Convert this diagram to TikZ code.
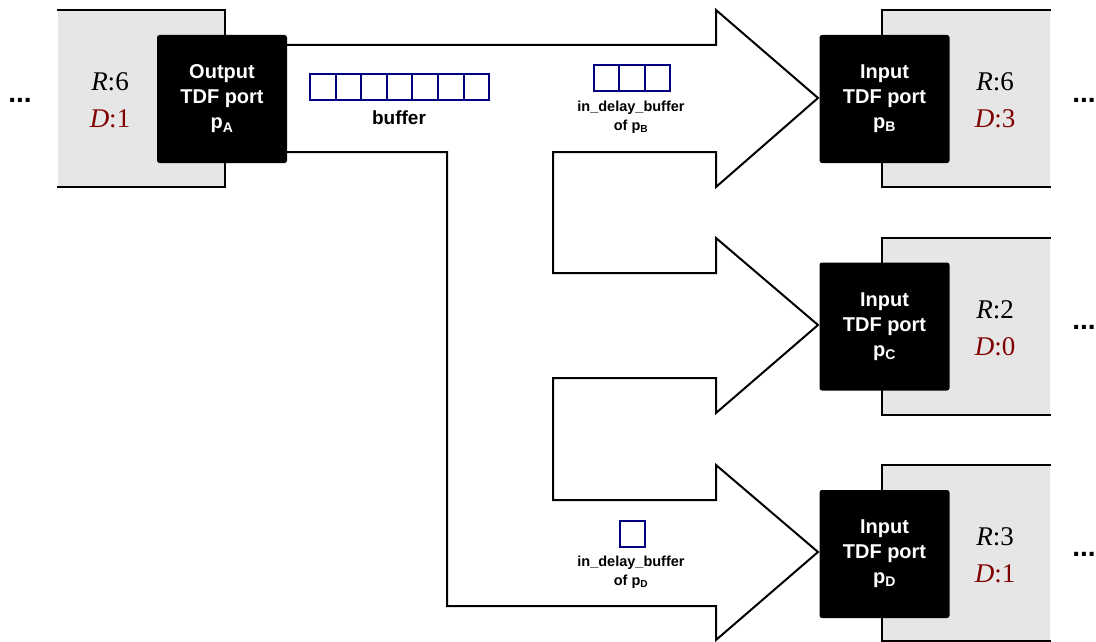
\documentclass[tikz,border=0pt]{standalone}
\usepackage{fontspec}
\setmainfont{Liberation Serif}
\setsansfont{Liberation Sans}
\definecolor{modgray}{RGB}{230,230,230}
\definecolor{dred}{RGB}{128,0,0}
\definecolor{bufblue}{RGB}{0,0,128}
\tikzset{
  portbox/.style={fill=black, rounded corners=2.5pt, minimum width=130pt, minimum height=128pt,
    inner sep=0pt, text=white, align=center, font=\sffamily\bfseries\fontsize{20}{25}\selectfont},
  modline/.style={line width=2.6pt, line cap=rect},
  pipe/.style={line width=2pt, line join=miter},
  cell/.style={draw=bufblue, line width=2pt, minimum width=25.6pt, minimum height=26pt, inner sep=0pt},
  rlbl/.style={font=\fontsize{27}{30}\selectfont, inner sep=0pt},
  dlbl/.style={font=\fontsize{27}{30}\selectfont, text=dred, inner sep=0pt},
  dots/.style={font=\sffamily\bfseries\fontsize{28}{30}\selectfont, inner sep=0pt},
  buflbl/.style={font=\sffamily\bfseries\fontsize{19}{22}\selectfont, inner sep=0pt},
  dlylbl/.style={font=\sffamily\bfseries\fontsize{14.5}{19}\selectfont, align=center, inner sep=0pt}
}
\begin{document}
\begin{tikzpicture}[x=1pt,y=-1pt]
\useasboundingbox (0,0) rectangle (1096,642);

% modules
\fill[modgray] (58,10) rectangle (225,187);
\draw[modline] (58,10) -- (225,10) -- (225,187) -- (58,187);
\fill[modgray] (882,10) rectangle (1050,187);
\draw[modline] (1050,10) -- (882,10) -- (882,187) -- (1050,187);
\fill[modgray] (882,238) rectangle (1050,415);
\draw[modline] (1050,238) -- (882,238) -- (882,415) -- (1050,415);
\fill[modgray] (882,465) rectangle (1050,642);
\draw[modline] (1050,465) -- (882,465) -- (882,641) -- (1050,641);

% pipe
\draw[pipe] (287,45) -- (716,45) -- (716,10) -- (818,98) -- (716,187) -- (716,152)
  -- (553,152) -- (553,273) -- (716,273) -- (716,238) -- (818,325) -- (716,413) -- (716,378)
  -- (553,378) -- (553,500) -- (716,500) -- (716,465) -- (818,552) -- (716,640) -- (716,606)
  -- (447,606) -- (447,152) -- (287,152);

% ports
\node[portbox] (pA) at (222,99) {Output\\TDF port\\p\textsubscript{A}};
\node[portbox] (pB) at (884.5,99) {Input\\TDF port\\p\textsubscript{B}};
\node[portbox] (pC) at (884.5,326.5) {Input\\TDF port\\p\textsubscript{C}};
\node[portbox] (pD) at (884.5,554) {Input\\TDF port\\p\textsubscript{D}};

% rates and delays
\node[rlbl] (rA) at (110,82) {\textit{R}:6};
\node[dlbl] (dA) at (110,119) {\textit{D}:1};
\node[rlbl] (rB) at (995,82) {\textit{R}:6};
\node[dlbl] (dB) at (995,119) {\textit{D}:3};
\node[rlbl] (rC) at (995,310) {\textit{R}:2};
\node[dlbl] (dC) at (995,347) {\textit{D}:0};
\node[rlbl] (rD) at (995,537) {\textit{R}:3};
\node[dlbl] (dD) at (995,574) {\textit{D}:1};

% dots
\node[dots] (lA) at (20,100) {...};
\node[dots] (lB) at (1084,100) {...};
\node[dots] (lC) at (1084,327) {...};
\node[dots] (lD) at (1084,554) {...};

% buffers
\foreach \i in {0,...,6} \node[cell] (buf\i) at (322.8+\i*25.6,87) {};
\node[buflbl] (buflabel) at (399,118) {buffer};
\foreach \i in {0,...,2} \node[cell] (dbB\i) at (606.3+\i*25.6,78) {};
\node[dlylbl] (dbBl) at (631,117) {in\_delay\_buffer\\of p\textsubscript{B}};
\node[cell] (dbD0) at (632.5,534) {};
\node[dlylbl] (dbDl) at (631,572) {in\_delay\_buffer\\of p\textsubscript{D}};
\end{tikzpicture}
\end{document}
